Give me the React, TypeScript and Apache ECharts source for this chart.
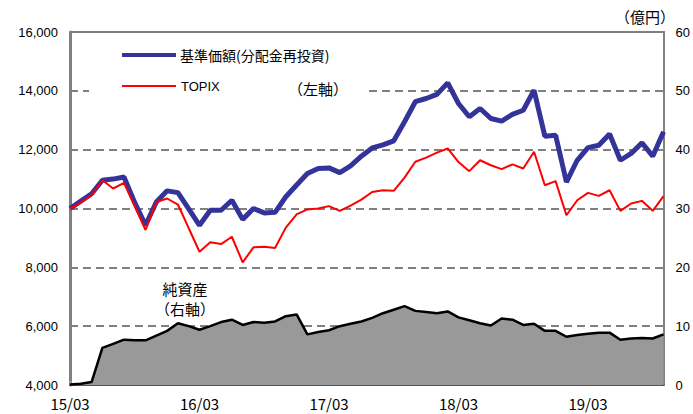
import React, { useEffect, useRef } from "react";
import * as echarts from "echarts";

const categories = [
  "15/03", "15/04", "15/05", "15/06", "15/07", "15/08", "15/09", "15/10", "15/11", "15/12",
  "16/01", "16/02", "16/03", "16/04", "16/05", "16/06", "16/07", "16/08", "16/09", "16/10",
  "16/11", "16/12", "17/01", "17/02", "17/03", "17/04", "17/05", "17/06", "17/07", "17/08",
  "17/09", "17/10", "17/11", "17/12", "18/01", "18/02", "18/03", "18/04", "18/05", "18/06",
  "18/07", "18/08", "18/09", "18/10", "18/11", "18/12", "19/01", "19/02", "19/03", "19/04",
  "19/05", "19/06", "19/07", "19/08", "19/09", "19/10",
];

const navValues = [
  10000, 10250, 10500, 10960, 11000, 11070, 10200, 9430, 10220, 10600,
  10540, 9990, 9430, 9940, 9940, 10280, 9630, 10000, 9850, 9870,
  10400, 10800, 11190, 11360, 11380, 11220, 11450, 11780, 12060, 12160,
  12300, 12950, 13630, 13740, 13880, 14270, 13570, 13120, 13400, 13060,
  12970, 13200, 13340, 14020, 12460, 12490, 10900, 11640, 12070, 12150,
  12530, 11640, 11870, 12230, 11780, 12610,
];

const topixValues = [
  10000, 10200, 10450, 10960, 10680, 10870, 10070, 9270, 10220, 10340,
  10135, 9330, 8530, 8850, 8790, 9040, 8170, 8680, 8700, 8660,
  9350, 9800, 9970, 10000, 10080, 9920, 10100, 10300, 10560, 10620,
  10600, 11050, 11590, 11730, 11900, 12040, 11580, 11270, 11640, 11470,
  11340, 11500, 11360, 11930, 10790, 10930, 9770, 10280, 10530, 10430,
  10620, 9920, 10170, 10260, 9920, 10420,
];

const netAssets = [
  0.1, 0.2, 0.5, 6.3, 7.0, 7.7, 7.6, 7.6, 8.4, 9.2,
  10.5, 10.0, 9.4, 10.0, 10.7, 11.1, 10.2, 10.7, 10.6, 10.8,
  11.7, 12.0, 8.6, 9.0, 9.3, 10.0, 10.4, 10.8, 11.4, 12.2,
  12.8, 13.4, 12.6, 12.4, 12.2, 12.5, 11.5, 11.0, 10.5, 10.1,
  11.3, 11.1, 10.2, 10.4, 9.2, 9.2, 8.2, 8.5, 8.7, 8.9,
  8.9, 7.7, 7.9, 8.0, 7.9, 8.6,
];

const seriesNames = ["基準価額(分配金再投資)", "TOPIX", "純資産"];

export default function App() {
  const ref = useRef<HTMLDivElement>(null);
  useEffect(() => {
    document.body.style.margin = "0";
    const chart = echarts.init(ref.current!, null, { renderer: "svg" });
    const cjk = '"Noto Sans CJK JP", sans-serif';
    const latin = '"Liberation Sans", Arial, sans-serif';
    const showEvery12 = (i: number) => i % 12 === 0;
    chart.setOption({
      animation: false,
      backgroundColor: "#ffffff",
      grid: { left: 70, right: 28, top: 32, bottom: 29 },
      xAxis: {
        type: "category",
        data: categories,
        boundaryGap: false,
        axisLine: { lineStyle: { color: "#555555", width: 2 } },
        axisTick: { show: true, inside: true, length: 4, interval: showEvery12, lineStyle: { color: "#cccccc" } },
        axisLabel: { interval: showEvery12, margin: 11, fontSize: 15, fontFamily: cjk, color: "#000" },
        splitLine: { show: false },
      },
      yAxis: [
        {
          type: "value",
          min: 4000,
          max: 16000,
          interval: 2000,
          position: "left",
          axisLine: { show: true, lineStyle: { color: "#808080", width: 3 } },
          axisTick: { show: false },
          axisLabel: {
            margin: 12,
            fontSize: 13,
            fontFamily: latin,
            color: "#000",
            formatter: (v: number) => v.toLocaleString("en-US"),
          },
          splitLine: { show: true, lineStyle: { color: "#808080", width: 2, type: [8, 5] } },
        },
        {
          type: "value",
          min: 0,
          max: 60,
          interval: 10,
          position: "right",
          axisLine: { show: true, lineStyle: { color: "#808080", width: 2 } },
          axisTick: { show: false },
          axisLabel: { margin: 12, fontSize: 13, fontFamily: latin, color: "#000" },
          splitLine: { show: false },
        },
      ],
      series: [
        {
          name: seriesNames[2],
          type: "line",
          yAxisIndex: 1,
          data: netAssets,
          showSymbol: false,
          lineStyle: { color: "#000000", width: 2.5 },
          areaStyle: { color: "#999999", opacity: 1 },
          z: 2,
        },
        {
          name: seriesNames[0],
          type: "line",
          yAxisIndex: 0,
          data: navValues,
          showSymbol: false,
          lineStyle: { color: "#333399", width: 5 },
          z: 3,
        },
        {
          name: seriesNames[1],
          type: "line",
          yAxisIndex: 0,
          data: topixValues,
          showSymbol: false,
          lineStyle: { color: "#ff0000", width: 2 },
          z: 4,
        },
      ],
      graphic: [
        { type: "rect", z: 50, shape: { x: 89, y: 38, width: 280, height: 64 }, style: { fill: "#ffffff" } },
        { type: "line", z: 51, shape: { x1: 70, y1: 32, x2: 665, y2: 32 }, style: { stroke: "#808080", lineWidth: 2 } },
        { type: "line", z: 51, shape: { x1: 122, y1: 55, x2: 176, y2: 55 }, style: { stroke: "#333399", lineWidth: 4 } },
        { type: "line", z: 51, shape: { x1: 122, y1: 86, x2: 176, y2: 86 }, style: { stroke: "#ff0000", lineWidth: 2 } },
        {
          type: "text", z: 51, x: 180, y: 55,
          style: { text: seriesNames[0], fontSize: 14, fontFamily: cjk, fill: "#000", textAlign: "left", textVerticalAlign: "middle" },
        },
        {
          type: "text", z: 51, x: 181, y: 86,
          style: { text: seriesNames[1], fontSize: 13, fontFamily: latin, fill: "#000", textAlign: "left", textVerticalAlign: "middle" },
        },
        {
          type: "text", z: 51, x: 288, y: 88,
          style: { text: "（左軸）", fontSize: 15, fontFamily: cjk, fill: "#000", textAlign: "left", textVerticalAlign: "middle" },
        },
        {
          type: "text", z: 51, x: 615, y: 16,
          style: { text: "（億円）", fontSize: 15, fontFamily: cjk, fill: "#000", textAlign: "left", textVerticalAlign: "middle" },
        },
        {
          type: "text", z: 51, x: 185, y: 288,
          style: { text: "純資産", fontSize: 15, fontFamily: cjk, fill: "#000", textAlign: "center", textVerticalAlign: "middle" },
        },
        {
          type: "text", z: 51, x: 185, y: 308,
          style: { text: "（右軸）", fontSize: 15, fontFamily: cjk, fill: "#000", textAlign: "center", textVerticalAlign: "middle" },
        },
      ],
    });
    return () => chart.dispose();
  }, []);
  return <div ref={ref} style={{ width: 693, height: 414 }} />;
}
